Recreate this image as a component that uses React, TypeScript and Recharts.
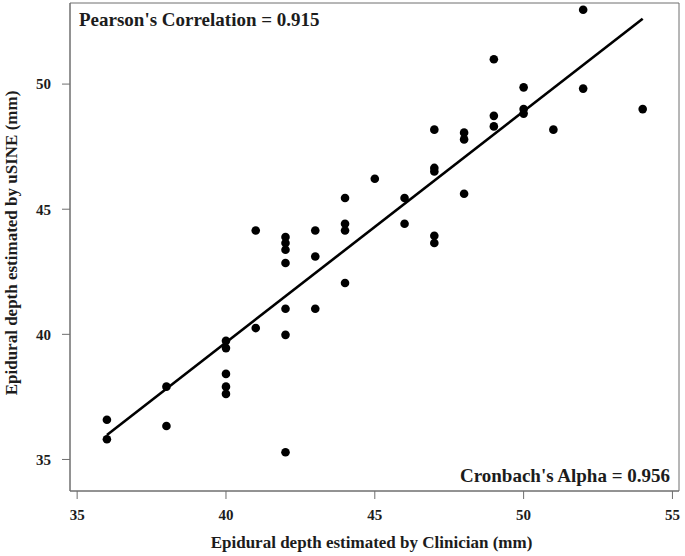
// Scatter of clinician vs uSINE epidural depth, with fitted line and stats notes.

import { ScatterChart, Scatter, XAxis, YAxis, ReferenceLine, ReferenceArea, Label } from 'recharts';

const clinicianMm = [
  36, 36, 38, 38, 40, 40, 40, 40, 40, 41, 41,
  42, 42, 42, 42, 42, 42, 42, 43, 43, 43, 44, 44, 44, 44,
  45, 46, 46, 47, 47, 47, 47, 47, 48, 48, 48,
  49, 49, 49, 50, 50, 50, 51, 52, 52, 54,
];
const usineMm = [
  36.59, 35.81, 37.91, 36.34, 39.74, 39.45, 38.42, 37.91, 37.62, 44.15, 40.25,
  43.89, 43.65, 43.38, 42.85, 41.02, 39.98, 35.29, 44.15, 43.11, 41.02, 45.45, 44.42, 44.15, 42.05,
  46.22, 45.45, 44.42, 48.18, 46.65, 46.51, 43.94, 43.65, 48.06, 47.79, 45.62,
  50.99, 48.73, 48.31, 49.87, 49.0, 48.82, 48.18, 52.97, 49.82, 49.0,
];
const fitLine = [
  { x: 36, y: 35.98 },
  { x: 54, y: 52.61 },
];
const xTicks = [35, 40, 45, 50, 55];
const yTicks = [35, 40, 45, 50];
const xDomain: [number, number] = [34.76, 55.22];
const yDomain: [number, number] = [33.74, 53.24];
const pearsonText = "Pearson's Correlation = 0.915";
const alphaText = "Cronbach's Alpha = 0.956";
const xTitle = 'Epidural depth estimated by Clinician (mm)';
const yTitle = 'Epidural depth estimated by uSINE (mm)';

const FONT = '"Liberation Serif", "Times New Roman", serif';
const INK = '#1c1c1c';
const FRAME = '#6e6e6e';

const points = clinicianMm.map((x, i) => ({ x, y: usineMm[i] }));

const Dot = (props: any) => <circle cx={props.cx} cy={props.cy} r={4.3} fill="#000" />;

export default function App() {
  return (
    <div style={{ position: 'absolute', left: 0, top: 0, background: '#fff' }}>
      <ScatterChart width={685} height={556} margin={{ top: 3, right: 6, bottom: 0, left: 0 }}>
        <XAxis
          type="number"
          dataKey="x"
          domain={xDomain}
          ticks={xTicks}
          allowDataOverflow
          height={65}
          stroke={FRAME}
          tickSize={8}
          tickMargin={10}
          tick={{ fill: INK, fontFamily: FONT, fontWeight: 700, fontSize: 15 }}
        >
          <Label
            content={({ viewBox }: any) => (
              <text
                x={viewBox.x + viewBox.width / 2 - 3}
                y={548}
                textAnchor="middle"
                fill={INK}
                fontFamily={FONT}
                fontWeight={700}
                fontSize={17}
              >
                {xTitle}
              </text>
            )}
          />
        </XAxis>
        <YAxis
          type="number"
          dataKey="y"
          domain={yDomain}
          ticks={yTicks}
          allowDataOverflow
          width={70}
          stroke={FRAME}
          tickSize={8}
          tickMargin={11}
          tick={{ fill: INK, fontFamily: FONT, fontWeight: 700, fontSize: 15 }}
        >
          <Label
            content={() => (
              <text
                x={17}
                y={243}
                transform="rotate(-90, 17, 243)"
                textAnchor="middle"
                fill={INK}
                fontFamily={FONT}
                fontWeight={700}
                fontSize={17}
              >
                {yTitle}
              </text>
            )}
          />
        </YAxis>
        <ReferenceArea
          x1={xDomain[0]}
          x2={xDomain[1]}
          y1={yDomain[0]}
          y2={yDomain[1]}
          fill="none"
          stroke={FRAME}
          strokeWidth={1}
          ifOverflow="visible"
        >
          <Label
            content={({ viewBox }: any) => (
              <g fill={INK} fontFamily={FONT} fontWeight={700} fontSize={19}>
                <text x={viewBox.x + 9} y={viewBox.y + 23}>
                  {pearsonText}
                </text>
                <text x={viewBox.x + viewBox.width - 9} y={viewBox.y + viewBox.height - 9} textAnchor="end">
                  {alphaText}
                </text>
              </g>
            )}
          />
        </ReferenceArea>
        <ReferenceLine segment={fitLine} stroke="#000" strokeWidth={2.6} ifOverflow="visible" />
        <Scatter data={points} shape={Dot} isAnimationActive={false} />
      </ScatterChart>
    </div>
  );
}
